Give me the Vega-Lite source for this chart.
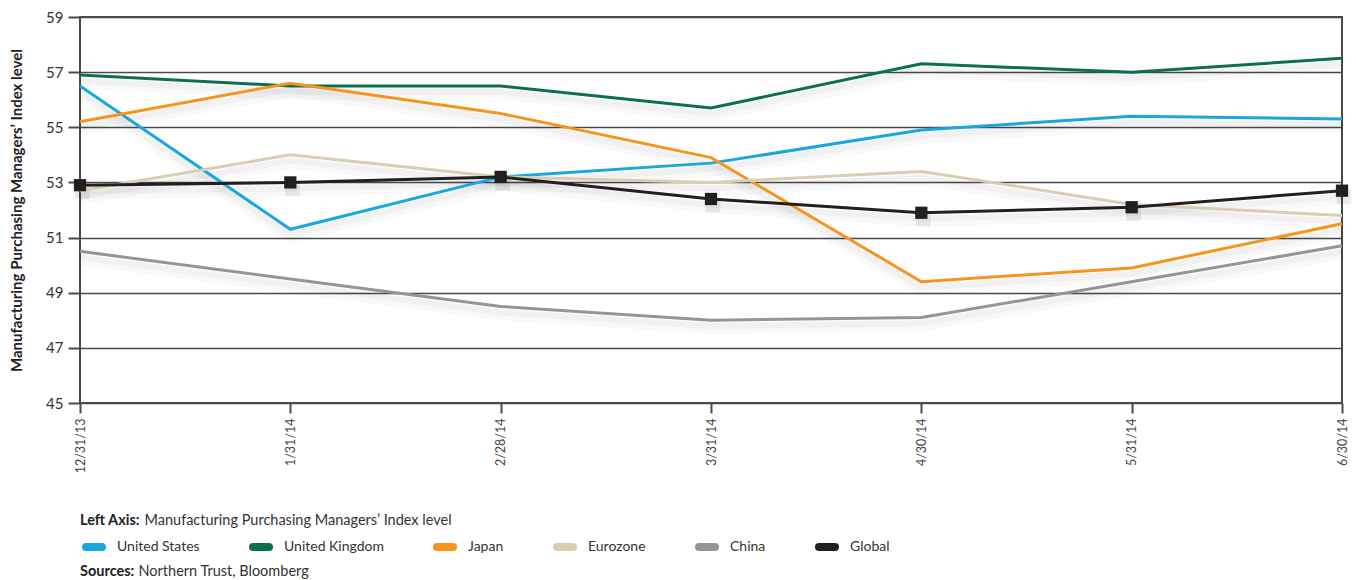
{
  "$schema": "https://vega.github.io/schema/vega-lite/v6.json",
  "width": 1262,
  "height": 386,
  "autosize": {"type": "none"},
  "padding": {"left": 80, "top": 17, "right": 14, "bottom": 177},
  "background": "#ffffff",
  "config": {
    "font": "Lato",
    "view": {"stroke": "#4a4a4a", "strokeWidth": 2}
  },
  "datasets": {
    "pmi": [
      {"date": "12/31/13", "series": "United States", "value": 56.5},
      {"date": "1/31/14", "series": "United States", "value": 51.3},
      {"date": "2/28/14", "series": "United States", "value": 53.2},
      {"date": "3/31/14", "series": "United States", "value": 53.7},
      {"date": "4/30/14", "series": "United States", "value": 54.9},
      {"date": "5/31/14", "series": "United States", "value": 55.4},
      {"date": "6/30/14", "series": "United States", "value": 55.3},
      {"date": "12/31/13", "series": "United Kingdom", "value": 56.9},
      {"date": "1/31/14", "series": "United Kingdom", "value": 56.5},
      {"date": "2/28/14", "series": "United Kingdom", "value": 56.5},
      {"date": "3/31/14", "series": "United Kingdom", "value": 55.7},
      {"date": "4/30/14", "series": "United Kingdom", "value": 57.3},
      {"date": "5/31/14", "series": "United Kingdom", "value": 57.0},
      {"date": "6/30/14", "series": "United Kingdom", "value": 57.5},
      {"date": "12/31/13", "series": "Japan", "value": 55.2},
      {"date": "1/31/14", "series": "Japan", "value": 56.6},
      {"date": "2/28/14", "series": "Japan", "value": 55.5},
      {"date": "3/31/14", "series": "Japan", "value": 53.9},
      {"date": "4/30/14", "series": "Japan", "value": 49.4},
      {"date": "5/31/14", "series": "Japan", "value": 49.9},
      {"date": "6/30/14", "series": "Japan", "value": 51.5},
      {"date": "12/31/13", "series": "Eurozone", "value": 52.7},
      {"date": "1/31/14", "series": "Eurozone", "value": 54.0},
      {"date": "2/28/14", "series": "Eurozone", "value": 53.2},
      {"date": "3/31/14", "series": "Eurozone", "value": 53.0},
      {"date": "4/30/14", "series": "Eurozone", "value": 53.4},
      {"date": "5/31/14", "series": "Eurozone", "value": 52.2},
      {"date": "6/30/14", "series": "Eurozone", "value": 51.8},
      {"date": "12/31/13", "series": "China", "value": 50.5},
      {"date": "1/31/14", "series": "China", "value": 49.5},
      {"date": "2/28/14", "series": "China", "value": 48.5},
      {"date": "3/31/14", "series": "China", "value": 48.0},
      {"date": "4/30/14", "series": "China", "value": 48.1},
      {"date": "5/31/14", "series": "China", "value": 49.4},
      {"date": "6/30/14", "series": "China", "value": 50.7},
      {"date": "12/31/13", "series": "Global", "value": 52.9},
      {"date": "1/31/14", "series": "Global", "value": 53.0},
      {"date": "2/28/14", "series": "Global", "value": 53.2},
      {"date": "3/31/14", "series": "Global", "value": 52.4},
      {"date": "4/30/14", "series": "Global", "value": 51.9},
      {"date": "5/31/14", "series": "Global", "value": 52.1},
      {"date": "6/30/14", "series": "Global", "value": 52.7}
    ]
  },
  "encoding": {
    "x": {
      "field": "date",
      "type": "ordinal",
      "sort": ["12/31/13", "1/31/14", "2/28/14", "3/31/14", "4/30/14", "5/31/14", "6/30/14"],
      "scale": {"type": "point", "padding": 0},
      "axis": {
        "title": null,
        "domain": false,
        "ticks": true,
        "tickSize": 10,
        "tickWidth": 2,
        "tickColor": "#4a4a4a",
        "labelAngle": -90,
        "labelFontSize": 12.5,
        "labelColor": "#444444",
        "labelPadding": 5
      }
    },
    "y": {
      "field": "value",
      "type": "quantitative",
      "scale": {"domain": [45, 59], "nice": false, "zero": false},
      "axis": {
        "title": "Manufacturing Purchasing Managers’ Index level",
        "titleFontSize": 15,
        "titleFontWeight": "bold",
        "titleColor": "#222222",
        "titlePadding": 21,
        "values": [45, 47, 49, 51, 53, 55, 57, 59],
        "domain": false,
        "grid": true,
        "gridColor": "#4a4a4a",
        "gridWidth": 1.6,
        "gridOpacity": 1,
        "tickSize": 12,
        "tickWidth": 2,
        "tickColor": "#4a4a4a",
        "labelFontSize": 15,
        "labelColor": "#333333",
        "labelPadding": 5
      }
    }
  },
  "layer": [
    {
      "data": {"name": "pmi"},
      "mark": {"type": "line", "color": "#000000", "opacity": 0.025, "strokeWidth": 12, "yOffset": 8},
      "encoding": {"detail": {"field": "series"}}
    },
    {
      "data": {"name": "pmi"},
      "mark": {"type": "line", "color": "#000000", "opacity": 0.03, "strokeWidth": 6, "yOffset": 6},
      "encoding": {"detail": {"field": "series"}}
    },
    {
      "data": {"name": "pmi"},
      "transform": [{"filter": "datum.series === 'Global'"}],
      "mark": {"type": "square", "color": "#000000", "opacity": 0.08, "size": 220, "yOffset": 6, "xOffset": 2},
      "encoding": {}
    },
    {
      "data": {"name": "pmi"},
      "mark": {"type": "line", "strokeWidth": 3},
      "encoding": {
        "color": {
          "field": "series",
          "type": "nominal",
          "scale": {
            "domain": ["United States", "United Kingdom", "Japan", "Eurozone", "China", "Global"],
            "range": ["#1aa7de", "#0b7050", "#f7941d", "#d9ceb0", "#939598", "#231f20"]
          },
          "legend": {
            "title": null,
            "orient": "none",
            "legendX": 2,
            "legendY": 518,
            "direction": "horizontal",
            "columns": 6,
            "columnPadding": 37,
            "symbolType": "stroke",
            "symbolSize": 256,
            "symbolStrokeWidth": 8,
            "labelFontSize": 14,
            "labelColor": "#333333",
            "labelOffset": 11,
            "labelLimit": 1000,
            "encode": {"symbols": {"update": {"strokeCap": {"value": "round"}}}}
          }
        }
      }
    },
    {
      "data": {"name": "pmi"},
      "transform": [{"filter": "datum.series === 'Global'"}],
      "mark": {"type": "square", "color": "#231f20", "opacity": 1, "size": 150},
      "encoding": {}
    },
    {
      "data": {"values": [{"note": "Manufacturing Purchasing Managers’ Index level"}]},
      "mark": {"type": "point", "opacity": 0},
      "encoding": {
        "x": {"value": 0},
        "y": {"value": 0},
        "shape": {
          "field": "note",
          "type": "nominal",
          "legend": {
            "title": "Left Axis:",
            "titleOrient": "left",
            "titleFontSize": 14.5,
            "titleFontWeight": "bold",
            "titleColor": "#222222",
            "titlePadding": 0,
            "orient": "none",
            "legendX": 0,
            "legendY": 497,
            "symbolOpacity": 0,
            "symbolSize": 1,
            "symbolStrokeWidth": 0,
            "labelOffset": -11,
            "labelLimit": 1000,
            "labelFontSize": 14.5,
            "labelColor": "#333333"
          }
        }
      }
    },
    {
      "data": {"values": [{"src": "Northern Trust, Bloomberg"}]},
      "mark": {"type": "point", "opacity": 0},
      "encoding": {
        "x": {"value": 0},
        "y": {"value": 0},
        "strokeDash": {
          "field": "src",
          "type": "nominal",
          "legend": {
            "title": "Sources:",
            "titleOrient": "left",
            "titleFontSize": 14.5,
            "titleFontWeight": "bold",
            "titleColor": "#222222",
            "titlePadding": 0,
            "orient": "none",
            "legendX": 0,
            "legendY": 548,
            "symbolOpacity": 0,
            "symbolSize": 1,
            "symbolStrokeWidth": 0,
            "labelOffset": -11,
            "labelLimit": 1000,
            "labelFontSize": 14.5,
            "labelColor": "#333333"
          }
        }
      }
    }
  ]
}
